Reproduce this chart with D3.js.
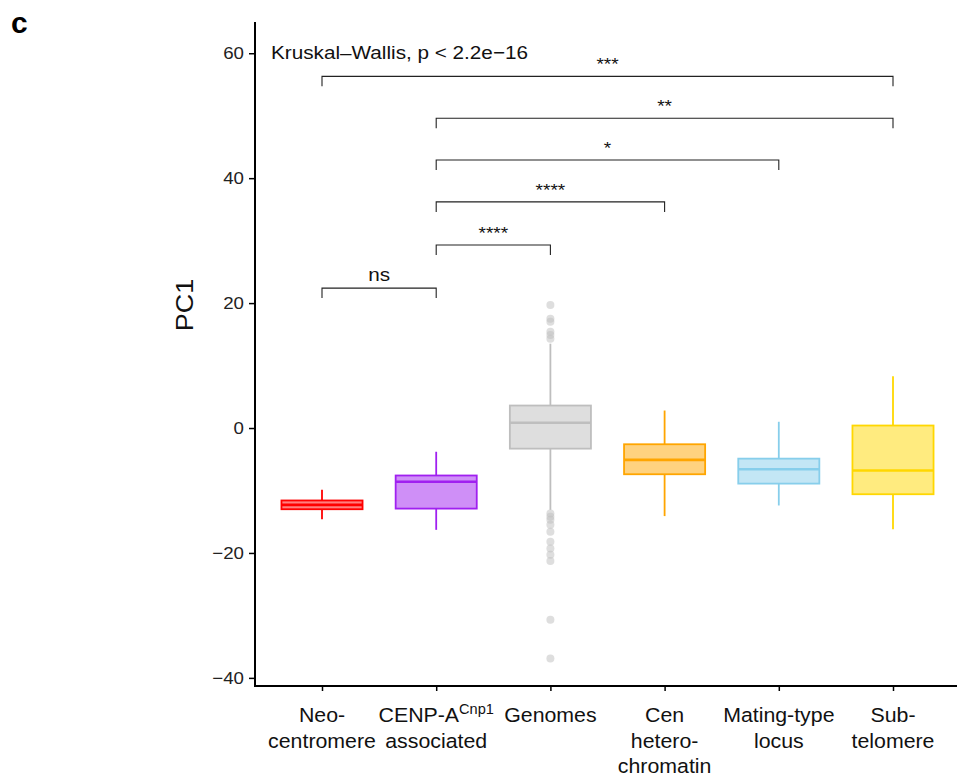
<!DOCTYPE html>
<html><head><meta charset="utf-8">
<script src="https://cdn.jsdelivr.net/npm/d3@7"></script>
<style>body{margin:0;background:#fff;} svg{display:block;font-family:"Liberation Sans",Arial,sans-serif;}</style>
</head><body><svg id="c" width="957" height="780"></svg>
<script>
const categories = ["Neo","CENP","Genomes","Cen","Mating","Sub"];
const labelLines = [["Neo-","centromere"],["CENP-A|Cnp1","associated"],["Genomes"],["Cen","hetero-","chromatin"],["Mating-type","locus"],["Sub-","telomere"]];
const colors = ["#FF0000","#A020F0","#BEBEBE","#FFA500","#87CEEB","#FFD700"];
const whiskerLow = [-14.6,-16.3,-13.1,-14.1,-12.4,-16.2];
const q1 = [-13.0,-12.9,-3.3,-7.4,-8.9,-10.6];
const medians = [-12.3,-8.6,0.85,-5.1,-6.6,-6.8];
const q3 = [-11.6,-7.6,3.6,-2.6,-4.9,0.4];
const whiskerHigh = [-9.9,-3.8,13.5,2.8,1.0,8.3];
const genomeOutliers = [19.7,17.5,17.0,15.4,14.9,14.3,-13.7,-14.2,-14.7,-15.5,-16.6,-18.2,-19.3,-20.3,-21.3,-30.7,-36.9];
const compFrom = ["Neo","CENP","CENP","CENP","CENP","Neo"];
const compTo = ["Sub","Sub","Mating","Cen","Genomes","CENP"];
const compY = [56.3,49.6,42.9,36.2,29.3,22.4];
const compLabel = ["***","**","*","****","****","ns"];
const yTicks = [-40,-20,0,20,40,60];

const svg = d3.select("#c");
const x = d3.scalePoint().domain(categories).range([322,893]);
const y = d3.scaleLinear().domain([-41.3,65]).range([686,22]);
const step = x.step();
const bw = step*0.71;

function stext(px, py, size, anchor, rot, sx){
  sx = sx || 1.12;
  return svg.append("text")
    .attr("transform", `translate(${px},${py})${rot?` rotate(${rot})`:""} scale(${sx},1)`)
    .attr("text-anchor", anchor).attr("font-size", size).attr("fill","#111");
}

// axes
const gy = svg.append("g").attr("transform","translate(255,0)").call(d3.axisLeft(y).tickValues(yTicks).tickSize(6).tickFormat(""));
gy.select(".domain").attr("d","M0,22V686").attr("stroke","#000").attr("stroke-width",2);
gy.selectAll(".tick line").attr("stroke","#000").attr("stroke-width",1.5);
yTicks.forEach(v=>{
  stext(244, y(v)+6, 17, "end", 0, 1.1).text(v<0?"\u2212"+Math.abs(v):v).attr("fill","#222");
});

const gx = svg.append("g").attr("transform","translate(0,686)").call(d3.axisBottom(x).tickSize(5).tickFormat(""));
gx.select(".domain").attr("d","M254,0H957").attr("stroke","#000").attr("stroke-width",2);
gx.selectAll(".tick line").attr("stroke","#000").attr("stroke-width",1.5);

// x labels
categories.forEach((c,i)=>{
  labelLines[i].forEach((ln,j)=>{
    const t = stext(x(c), 722+j*25.5, 20.5, "middle", 0, 1.04);
    if(ln.includes("|")){
      const [a,b]=ln.split("|");
      t.append("tspan").text(a);
      t.append("tspan").attr("font-size",14).attr("dy",-8).text(b);
    } else t.text(ln);
  });
});

// y label
stext(193, 305, 24, "middle", -90).text("PC1");

// panel letter
svg.append("text").attr("x",11).attr("y",33).attr("font-size",30).attr("font-weight","bold").attr("fill","#000").text("c");

// boxes
const g = svg.append("g");
categories.forEach((c,i)=>{
  const cx = x(c), col = colors[i];
  g.append("line").attr("x1",cx).attr("x2",cx).attr("y1",y(whiskerHigh[i])).attr("y2",y(q3[i])).attr("stroke",col).attr("stroke-width",1.8);
  g.append("line").attr("x1",cx).attr("x2",cx).attr("y1",y(q1[i])).attr("y2",y(whiskerLow[i])).attr("stroke",col).attr("stroke-width",1.8);
  g.append("rect").attr("x",cx-bw/2).attr("width",bw).attr("y",y(q3[i])).attr("height",y(q1[i])-y(q3[i]))
    .attr("fill",col).attr("fill-opacity",0.5).attr("stroke",col).attr("stroke-width",1.8);
  g.append("line").attr("x1",cx-bw/2).attr("x2",cx+bw/2).attr("y1",y(medians[i])).attr("y2",y(medians[i])).attr("stroke",col).attr("stroke-width",2.6);
});
g.selectAll("circle.o").data(genomeOutliers).join("circle").attr("class","o")
  .attr("cx",x("Genomes")).attr("cy",d=>y(d)).attr("r",4).attr("fill","#BEBEBE").attr("fill-opacity",0.5);

// Kruskal text
stext(271, 59, 18.5, "start").text("Kruskal\u2013Wallis, p < 2.2e\u221216");

// brackets
const tickLen = 10;
compFrom.forEach((f,i)=>{
  const x1=x(f), x2=x(compTo[i]), yy=y(compY[i]);
  svg.append("path").attr("d",`M${x1},${yy+tickLen}V${yy}H${x2}V${yy+tickLen}`).attr("fill","none").attr("stroke","#222").attr("stroke-width",1.1);
  const isNs = compLabel[i]==="ns";
  stext((x1+x2)/2, isNs?yy-7:yy-6, isNs?18.5:17, "middle").text(compLabel[i]);
});
</script></body></html>
